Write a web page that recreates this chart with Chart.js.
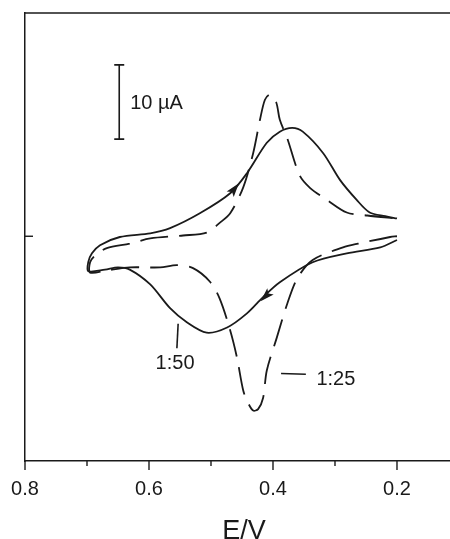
<!DOCTYPE html>
<html>
<head>
<meta charset="utf-8">
<script src="https://cdn.jsdelivr.net/npm/chart.js@4"></script>
<style>
  html, body { margin: 0; padding: 0; background: #fff; }
  #wrap { width: 450px; height: 539px; position: relative; }
</style>
</head>
<body>
<div id="wrap"><canvas id="cvChart"></canvas></div>
<script>
// voltammograms: potential (V) and current (µA)
const solidE = [0.200, 0.227, 0.281, 0.336, 0.389, 0.416, 0.442, 0.474, 0.507, 0.539, 0.566, 0.598,
  0.631, 0.650, 0.671, 0.698, 0.698, 0.692, 0.679, 0.647, 0.598, 0.566, 0.518, 0.469, 0.442,
  0.410, 0.389, 0.369, 0.352, 0.319, 0.292, 0.265, 0.244, 0.219, 0.200];
const solidI = [-0.5, -1.5, -2.3, -3.5, -6.2, -8.2, -10.4, -12.3, -13.0, -11.6, -9.7, -6.5,
  -4.5, -4.2, -4.5, -4.7, -3.5, -2.3, -1.2, -0.1, 0.4, 1.1, 3.1, 5.8, 8.5,
  12.6, 14.1, 14.6, 14.1, 11.2, 7.6, 4.9, 3.2, 2.7, 2.4];

const dashedE = [0.200, 0.211, 0.263, 0.287, 0.336, 0.361, 0.377, 0.394, 0.410, 0.416, 0.424, 0.432,
  0.440, 0.448, 0.458, 0.469, 0.486, 0.502, 0.529, 0.555, 0.582, 0.631, 0.668, 0.695, 0.695,
  0.687, 0.668, 0.631, 0.598, 0.545, 0.507, 0.486, 0.469, 0.448, 0.432, 0.421, 0.413, 0.405,
  0.395, 0.389, 0.377, 0.357, 0.340, 0.313, 0.281, 0.248, 0.200];
const dashedI = [0.0, -0.1, -1.0, -1.5, -3.2, -5.7, -9.1, -13.7, -18.1, -21.8, -23.3, -23.5,
  -22.5, -20.8, -16.4, -12.7, -8.4, -6.1, -4.3, -3.9, -4.2, -4.2, -4.6, -4.9, -3.5,
  -2.6, -1.6, -1.0, -0.3, 0.1, 0.5, 1.8, 3.1, 6.6, 11.2, 15.7, 18.4, 19.1,
  18.1, 15.7, 13.2, 8.2, 6.5, 4.9, 3.2, 2.8, 2.4];

const seriesLabels = ['1:50', '1:25'];
const xTickValues = [0.2, 0.3, 0.4, 0.5, 0.6, 0.7, 0.8];
const yTickValues = [0];
const xTitle = 'E/V';

// scan direction arrows on the 1:50 curve: [E, I, towards E, towards I]
const arrowsSolid = [[0.462, 6.4, 0.442, 8.5], [0.412, -8.1, 0.437, -10.2]];

// annotations in data units
const scaleBar = { e: 0.648, top: 23.1, size: 10, text: '10 µA' };
const notes = [
  { text: '1:50', lead: [[0.553, -11.8], [0.555, -15.1]], at: [0.558, -17.1], align: 'center' },
  { text: '1:25', lead: [[0.387, -18.5], [0.347, -18.6]], at: [0.330, -19.3], align: 'left' },
];

const ink = '#1a1a1a';
const fontFam = '"Liberation Sans", Arial, sans-serif';

function toPoints(xs, ys) {
  return xs.map((x, i) => ({ x, y: ys[i] }));
}

const decorPlugin = {
  id: 'cvDecor',
  afterDraw(chart) {
    const { ctx, chartArea } = chart;
    const xs = chart.scales.x;
    const ys = chart.scales.y;
    ctx.save();
    ctx.strokeStyle = ink;
    ctx.fillStyle = ink;
    ctx.lineWidth = 1.5;

    // top frame line
    ctx.beginPath();
    ctx.moveTo(chartArea.left, chartArea.top);
    ctx.lineTo(chartArea.right, chartArea.top);
    ctx.stroke();

    // x ticks, outside, major longer
    ctx.lineWidth = 1.4;
    xTickValues.forEach((v) => {
      const px = xs.getPixelForValue(v);
      const major = Math.round(v * 10) % 2 === 0;
      ctx.beginPath();
      ctx.moveTo(px, chartArea.bottom);
      ctx.lineTo(px, chartArea.bottom + (major ? 9 : 5));
      ctx.stroke();
    });

    // y ticks, inside
    yTickValues.forEach((v) => {
      const py = ys.getPixelForValue(v);
      ctx.beginPath();
      ctx.moveTo(chartArea.left, py);
      ctx.lineTo(chartArea.left + 8, py);
      ctx.stroke();
    });

    // x axis title
    ctx.font = '27px ' + fontFam;
    ctx.textAlign = 'center';
    ctx.textBaseline = 'alphabetic';
    ctx.fillText(xTitle, 244, 539);

    // scale bar
    const bx = xs.getPixelForValue(scaleBar.e);
    const by1 = ys.getPixelForValue(scaleBar.top);
    const by2 = ys.getPixelForValue(scaleBar.top - scaleBar.size);
    ctx.lineWidth = 1.6;
    ctx.beginPath();
    ctx.moveTo(bx, by1); ctx.lineTo(bx, by2);
    ctx.moveTo(bx - 5, by1); ctx.lineTo(bx + 5, by1);
    ctx.moveTo(bx - 5, by2); ctx.lineTo(bx + 5, by2);
    ctx.stroke();
    ctx.font = '20px ' + fontFam;
    ctx.textAlign = 'left';
    ctx.textBaseline = 'middle';
    ctx.fillText(scaleBar.text, bx + 11, (by1 + by2) / 2 + 1);

    // arrows
    arrowsSolid.forEach(([e, i, e2, i2]) => {
      const x0 = xs.getPixelForValue(e);
      const y0 = ys.getPixelForValue(i);
      const x1 = xs.getPixelForValue(e2);
      const y1 = ys.getPixelForValue(i2);
      const ang = Math.atan2(y1 - y0, x1 - x0);
      const len = 14;
      const half = 4.5;
      const tx = x0 + Math.cos(ang) * len / 2;
      const ty = y0 + Math.sin(ang) * len / 2;
      const bxx = x0 - Math.cos(ang) * len / 2;
      const byy = y0 - Math.sin(ang) * len / 2;
      ctx.beginPath();
      ctx.moveTo(tx, ty);
      ctx.lineTo(bxx - Math.sin(ang) * half, byy + Math.cos(ang) * half);
      ctx.lineTo(bxx + Math.cos(ang) * 3, byy + Math.sin(ang) * 3);
      ctx.lineTo(bxx + Math.sin(ang) * half, byy - Math.cos(ang) * half);
      ctx.closePath();
      ctx.fill();
    });

    // curve labels with leader lines
    ctx.lineWidth = 1.6;
    notes.forEach((n) => {
      ctx.beginPath();
      ctx.moveTo(xs.getPixelForValue(n.lead[0][0]), ys.getPixelForValue(n.lead[0][1]));
      ctx.lineTo(xs.getPixelForValue(n.lead[1][0]), ys.getPixelForValue(n.lead[1][1]));
      ctx.stroke();
      ctx.textAlign = n.align;
      ctx.fillText(n.text, xs.getPixelForValue(n.at[0]), ys.getPixelForValue(n.at[1]));
    });

    ctx.restore();
  },
};

new Chart(document.getElementById('cvChart'), {
  type: 'line',
  data: {
    datasets: [
      {
        label: seriesLabels[0],
        data: toPoints(solidE, solidI),
        borderColor: ink,
        borderWidth: 1.8,
        pointRadius: 0,
        tension: 0.3,
        fill: false,
      },
      {
        label: seriesLabels[1],
        data: toPoints(dashedE, dashedI),
        borderColor: ink,
        borderWidth: 1.8,
        borderDash: [28, 11],
        pointRadius: 0,
        tension: 0.3,
        fill: false,
      },
    ],
  },
  options: {
    responsive: true,
    maintainAspectRatio: false,
    animation: false,
    devicePixelRatio: 1,
    layout: { padding: { left: 25, top: 13, right: 0, bottom: 32 } },
    plugins: {
      legend: { display: false },
      tooltip: { enabled: false },
    },
    scales: {
      x: {
        type: 'linear',
        reverse: true,
        min: 0.1145,
        max: 0.8,
        afterBuildTicks: (scale) => {
          scale.ticks = xTickValues.map((v) => ({ value: v }));
        },
        ticks: {
          autoSkip: false,
          maxRotation: 0,
          padding: 6,
          color: ink,
          font: { family: fontFam, size: 20 },
          callback: (v) => (Math.round(v * 10) % 2 === 0 ? Number(v).toFixed(1) : ''),
        },
        grid: {
          drawOnChartArea: false,
          drawTicks: true,
          tickLength: 10,
          tickColor: 'rgba(0,0,0,0)',
        },
        border: { display: true, color: ink, width: 1.5 },
      },
      y: {
        type: 'linear',
        min: -30.3,
        max: 30.1,
        ticks: { display: false },
        grid: { drawOnChartArea: false, drawTicks: false },
        border: { display: true, color: ink, width: 1.5 },
      },
    },
  },
  plugins: [decorPlugin],
});
</script>
</body>
</html>
